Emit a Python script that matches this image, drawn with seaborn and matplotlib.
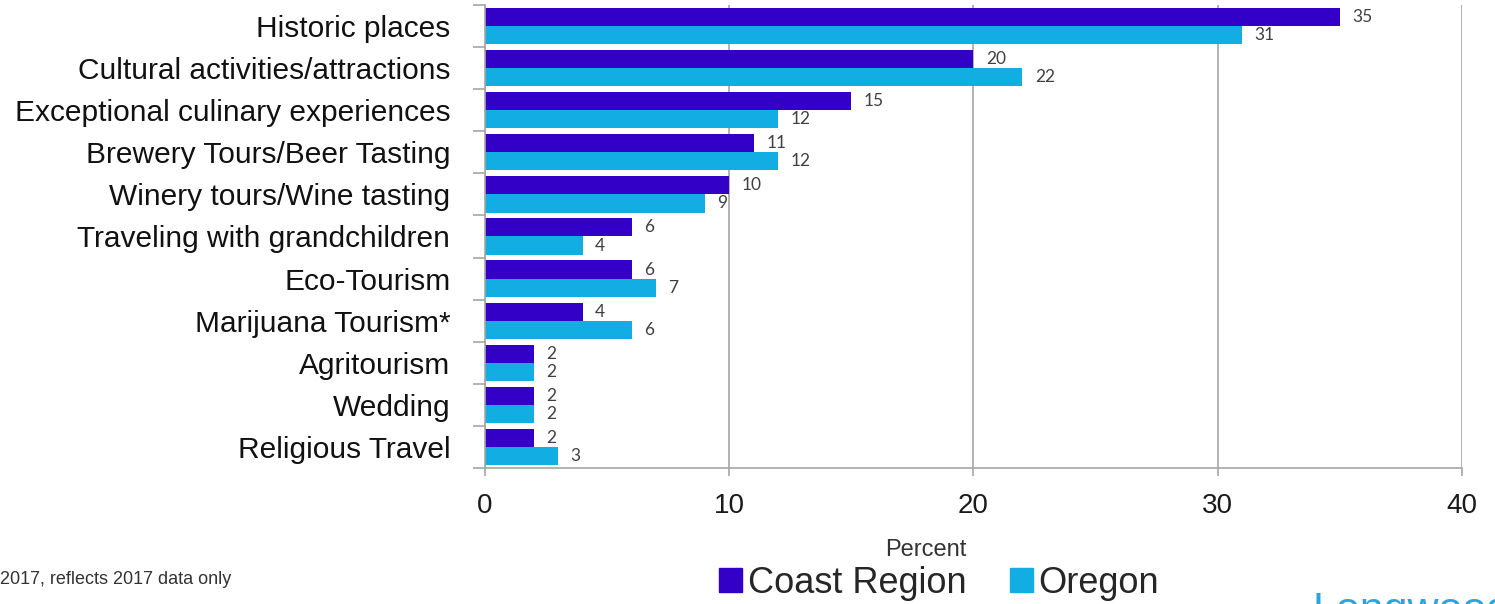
import matplotlib
matplotlib.use("Agg")
import matplotlib.pyplot as plt
import matplotlib.patches as mpatches
import numpy as np
import pandas as pd
import seaborn as sns

# Travel interests: share of respondents (percent)
categories = [
    "Historic places",
    "Cultural activities/attractions",
    "Exceptional culinary experiences",
    "Brewery Tours/Beer Tasting",
    "Winery tours/Wine tasting",
    "Traveling with grandchildren",
    "Eco-Tourism",
    "Marijuana Tourism*",
    "Agritourism",
    "Wedding",
    "Religious Travel",
]
coast_region = [35, 20, 15, 11, 10, 6, 6, 4, 2, 2, 2]
oregon = [31, 22, 12, 12, 9, 4, 7, 6, 2, 2, 3]
series_names = ["Coast Region", "Oregon"]
x_ticks = [0, 10, 20, 30, 40]

COAST_COLOR = "#3300c8"
OREGON_COLOR = "#12ade2"
GRID_COLOR = "#a6a6a6"

df = pd.DataFrame({
    "Activity": categories * 2,
    "Series": [series_names[0]] * len(categories) + [series_names[1]] * len(categories),
    "Percent": coast_region + oregon,
})

sns.set_theme(style="white")
plt.rcParams["font.family"] = ["Liberation Sans", "DejaVu Sans"]

fig = plt.figure(figsize=(14.95, 6.04), dpi=100)
ax = fig.add_axes([0.3244, 0.2252, 0.6535, 0.7665])

sns.barplot(
    data=df, y="Activity", x="Percent", hue="Series",
    order=categories, hue_order=series_names,
    palette=[COAST_COLOR, OREGON_COLOR],
    orient="h", width=0.86, saturation=1, linewidth=0, legend=False, ax=ax,
)

for container, vals in zip(ax.containers, [coast_region, oregon]):
    ax.bar_label(container, labels=[f"{v:d}" for v in vals], padding=9,
                 fontsize=12.5, color="#404040", family="Lato")

ax.set_xlim(0, 40)
ax.set_ylim(len(categories) - 0.5, -0.5)
ax.set_xticks(x_ticks)
ax.set_xticklabels([str(t) for t in x_ticks], fontsize=20, color="#1a1a1a")
ax.tick_params(axis="x", bottom=True, direction="out", length=6, color=GRID_COLOR,
               width=1.2, pad=12)
ax.tick_params(axis="y", which="major", left=False, length=0, labelsize=21.5, pad=25,
               labelcolor="#111111")
# tick marks between category groups
ax.set_yticks(np.arange(-0.5, len(categories), 1.0), minor=True)
ax.tick_params(axis="y", which="minor", left=True, length=9, color=GRID_COLOR,
               width=1.2, direction="out")

ax.xaxis.grid(True, color=GRID_COLOR, linewidth=1.2)
ax.yaxis.grid(False)
ax.set_axisbelow(True)
for side in ["top", "right"]:
    ax.spines[side].set_visible(False)
for side in ["left", "bottom"]:
    ax.spines[side].set_color(GRID_COLOR)
    ax.spines[side].set_linewidth(1.2)

ax.set_ylabel("")
ax.set_xlabel("")
fig.text(0.619, 0.089, "Percent", fontsize=17, color="#333333", ha="center", va="center")

handles = [mpatches.Patch(color=COAST_COLOR, label=series_names[0]),
           mpatches.Patch(color=OREGON_COLOR, label=series_names[1])]
fig.legend(handles=handles, loc="center", bbox_to_anchor=(0.628, 0.034), ncol=2,
           frameon=False, fontsize=26, handlelength=0.65, handleheight=0.65,
           handletextpad=0.15, columnspacing=1.2)

fig.text(0.0, 0.04, "2017, reflects 2017 data only", fontsize=13, color="#333333",
         ha="left", va="center")
fig.text(0.878, -0.029, "Longwoods", fontsize=31, color="#2aa6da", ha="left",
         va="baseline")

fig.savefig("out.png", dpi=100)
